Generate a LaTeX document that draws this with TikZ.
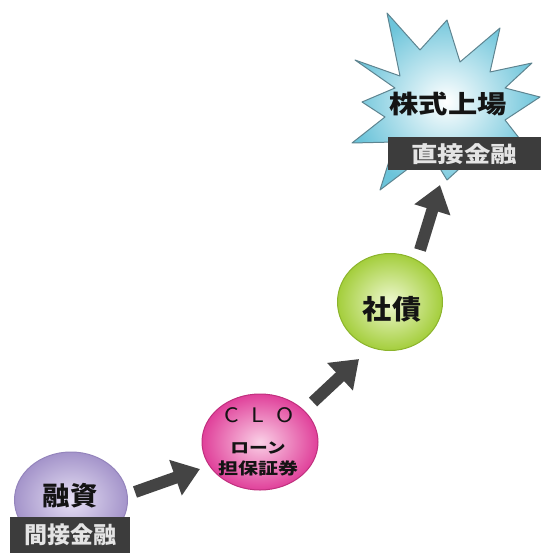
\documentclass[tikz,border=0pt]{standalone}
\usepackage{fontspec}
\newfontfamily\jp{Noto Sans CJK JP}
\usetikzlibrary{shapes.geometric,arrows.meta}
\definecolor{lavE}{HTML}{A494CA}
\definecolor{lavC}{HTML}{E6E0F4}
\definecolor{lavO}{HTML}{9484BC}
\definecolor{pinkE}{HTML}{E0409A}
\definecolor{pinkC}{HTML}{FAD0E6}
\definecolor{pinkO}{HTML}{C0307E}
\definecolor{grnE}{HTML}{A4CE3C}
\definecolor{grnC}{HTML}{EEF8D0}
\definecolor{grnO}{HTML}{8CB42C}
\definecolor{starE}{HTML}{6CC4DA}
\definecolor{starO}{HTML}{5E8490}
\definecolor{boxF}{HTML}{3C3C3C}
\definecolor{boxT}{HTML}{E4E4E4}
\definecolor{arrowC}{HTML}{444444}
\definecolor{txt}{HTML}{141414}
\tikzset{
  bubble/.style={ellipse, line width=1pt, inner sep=0pt},
  tag/.style={fill=boxF, text=boxT, inner sep=0pt, font=\jp\bfseries},
  lbl/.style={text=txt, inner sep=0pt, font=\jp\bfseries},
  bigarrow/.style={draw=arrowC, line width=12pt, -{Triangle[length=26pt,width=36pt]}}
}
\begin{document}
\begin{tikzpicture}[x=1pt,y=-1pt]
\useasboundingbox (0,0) rectangle (541,553);
% starburst
\shadedraw[inner color=white, outer color=starE, draw=starO, line width=1pt, line join=round]
  (387,13) -- (420,50) -- (447,20) -- (460,62) -- (500,28) -- (490,72) -- (532,63)
  -- (505,88) -- (540,97) -- (505,120) -- (530,152) -- (480,150) -- (447,180)
  -- (430,152) -- (380,190) -- (395,142) -- (352,143) -- (385,117) -- (362,102)
  -- (395,88) -- (355,60) -- (400,76) -- cycle;
\node[lbl, font=\jp\bfseries\fontsize{25}{25}\selectfont] (kabu) at (448,104) {\scalebox{1.17}[1]{株式上場}};
\node[tag, minimum width=153pt, minimum height=33pt, font=\jp\bfseries\fontsize{22}{22}\selectfont] (chok) at (464,154) {\scalebox{1.2}[1]{直接金融}};
% bubbles
\node[bubble, shade, inner color=lavC, outer color=lavE, draw=lavO, minimum width=113pt, minimum height=96pt] (yushi) at (71,500) {};
\node[lbl, font=\jp\bfseries\fontsize{26}{26}\selectfont] (yushiT) at (70,496) {\scalebox{1.05}[1]{融資}};
\node[tag, minimum width=120pt, minimum height=36pt, font=\jp\bfseries\fontsize{23}{23}\selectfont] (kan) at (70,535) {間接金融};
\node[bubble, shade, inner color=pinkC, outer color=pinkE, draw=pinkO, minimum width=116pt, minimum height=96pt] (clo) at (260,442) {};
\node[lbl, font=\jp\fontsize{20}{20}\selectfont] (cloT) at (259,415) {\scalebox{1.15}[1]{C\hspace{11pt}L\hspace{11pt}O}};
\node[lbl, font=\jp\bfseries\fontsize{15}{15}\selectfont] (loan) at (258,448) {\scalebox{1.25}[1]{ローン}};
\node[lbl, font=\jp\bfseries\fontsize{16}{16}\selectfont] (tanpo) at (258,468) {\scalebox{1.25}[1]{担保証券}};
\node[bubble, shade, inner color=grnC, outer color=grnE, draw=grnO, minimum width=105pt, minimum height=97pt] (shasai) at (390,302) {};
\node[lbl, font=\jp\bfseries\fontsize{27}{27}\selectfont] (shasaiT) at (392,309) {\scalebox{1.08}[1]{社債}};
% arrows
\coordinate (a1s) at (135,492);
\coordinate (a1e) at (200,469);
\coordinate (a2s) at (313,402);
\coordinate (a2e) at (359,359);
\coordinate (a3s) at (420,250);
\coordinate (a3e) at (440,185);
\draw[bigarrow] (a1s) -- (a1e);
\draw[bigarrow] (a2s) -- (a2e);
\draw[bigarrow] (a3s) -- (a3e);
\end{tikzpicture}
\end{document}
